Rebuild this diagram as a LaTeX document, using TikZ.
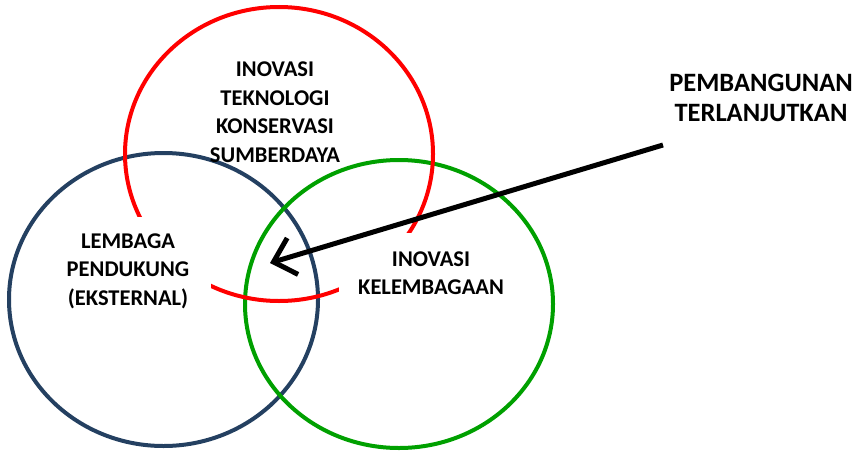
\documentclass[tikz,border=0pt]{standalone}
\usepackage{fontspec}
\setmainfont{Carlito}
\usetikzlibrary{arrows.meta}
\definecolor{ringred}{RGB}{255,0,0}
\definecolor{ringblue}{RGB}{36,64,97}
\definecolor{ringgreen}{RGB}{0,160,0}
\tikzset{
  ring/.style={line width=4pt},
  label/.style={font=\bfseries\fontsize{22.5}{28.5}\selectfont, align=center, inner sep=0pt},
  mask/.style={fill=white, draw=none, inner sep=0pt},
  pointer/.style={line width=5pt, -{Straight Barb[length=20pt, width=38pt, line width=5pt]}}
}
\begin{document}
\begin{tikzpicture}[x=1pt, y=-1pt]
  \useasboundingbox (0,0) rectangle (861,455);
  % the three overlapping rings
  \draw[ring, ringblue]  (163.5,299.5) ellipse [x radius=154.5, y radius=146.5];
  \draw[ring, ringgreen] (399,304) ellipse [x radius=154, y radius=144];
  \draw[ring, ringred]   (279,154) ellipse [x radius=154, y radius=147];
  % white text boxes that break the red ring
  \node[mask, minimum width=166pt, minimum height=108pt] (lembagabox) at (128,271) {};
  \node[mask, minimum width=184pt, minimum height=80pt] (kelembagaanbox) at (431,273) {};
  % labels
  \node[label] (teknologi) at (275,112) {INOVASI\\TEKNOLOGI\\KONSERVASI\\SUMBERDAYA};
  \node[label] (lembaga) at (128,271) {LEMBAGA\\PENDUKUNG\\(EKSTERNAL)};
  \node[label] (kelembagaan) at (431,273) {INOVASI\\KELEMBAGAAN};
  \node[label, font=\bfseries\fontsize{26.5}{30}\selectfont] (pembangunan) at (761,98) {PEMBANGUNAN\\TERLANJUTKAN};
  % arrow into the shared centre
  \coordinate (tail) at (663,145);
  \coordinate (centre) at (270,263);
  \draw[pointer] (tail) -- (centre);
\end{tikzpicture}
\end{document}
